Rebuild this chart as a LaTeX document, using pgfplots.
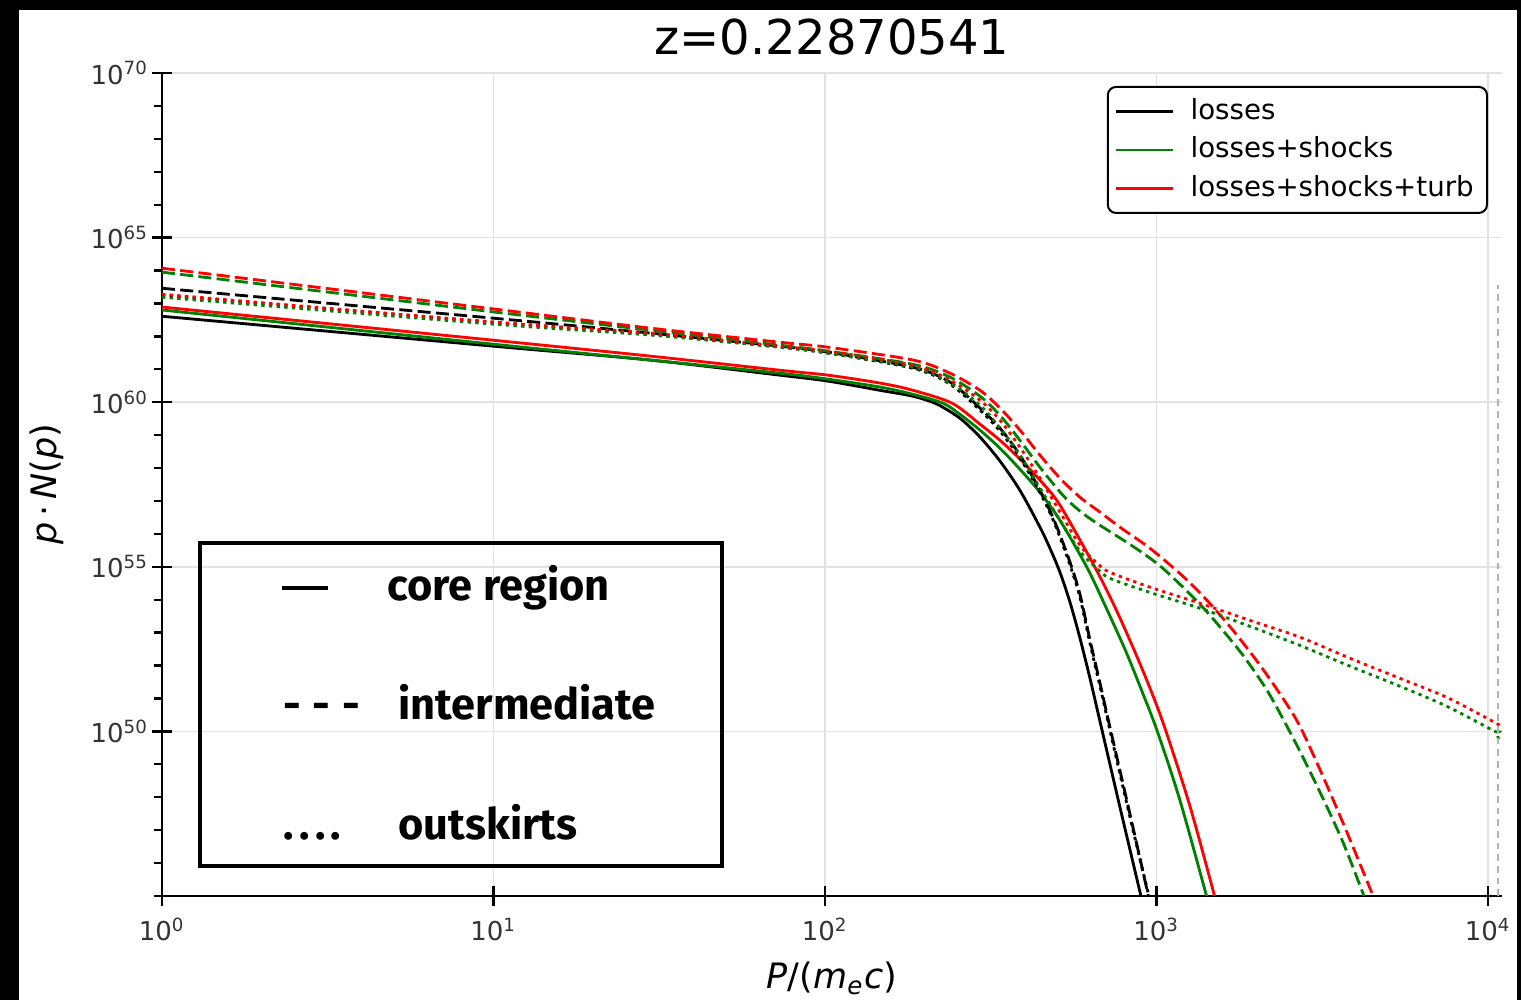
\documentclass[border=0pt]{standalone}
\usepackage{pgfplots}
\usepackage{pgfplotstable}
\pgfplotsset{compat=1.18}
\usepackage{fontspec}
\setmainfont{DejaVu Sans}
\newfontfamily\boxfont{Fira Sans}
\definecolor{mplgreen}{RGB}{0,128,0}
\definecolor{mplred}{RGB}{255,0,0}
\definecolor{gridgray}{RGB}{226,226,226}
\newcommand{\tl}[1]{10\textsuperscript{#1}}

% columns: log10(P/(m_e c))  log10(p N(p))
\pgfplotstableread{
lx ly
0 62.61
1.0015 61.70
1.4721 61.28
1.8643 60.82
2.0090 60.64
2.1659 60.36
2.2655 60.18
2.3379 59.94
2.4072 59.51
2.4676 58.94
2.5279 58.21
2.5882 57.32
2.6486 56.20
2.6787 55.56
2.7089 54.83
2.7391 53.92
2.7692 52.83
2.7994 51.61
2.8296 50.30
2.8899 47.69
2.9563 44.86
}\coreL
\pgfplotstableread{
lx ly
0 62.80
1.0015 61.76
1.4721 61.28
1.8643 60.88
2.0090 60.70
2.1659 60.46
2.2655 60.24
2.3560 59.97
2.4072 59.63
2.4676 59.15
2.5279 58.60
2.5882 57.96
2.6486 57.26
2.7089 56.41
2.7903 54.98
2.8446 53.83
2.9050 52.49
2.9502 51.37
3.0015 50.03
3.0709 47.90
3.1523 44.95
3.1584 44.71
}\coreLS
\pgfplotstableread{
lx ly
0 62.89
1.0015 61.88
1.4721 61.40
1.8643 60.97
2.0090 60.82
2.1659 60.58
2.2655 60.36
2.3831 59.97
2.4676 59.33
2.5279 58.84
2.5882 58.27
2.6486 57.63
2.7089 56.87
2.8145 54.98
2.8748 53.77
2.9291 52.55
2.9804 51.31
3.0256 50.09
3.1011 47.72
3.1765 44.95
3.1825 44.71
}\coreLST
\pgfplotstableread{
lx ly
0 63.46
1.0015 62.55
1.4721 62.10
1.8643 61.70
2.0090 61.52
2.2655 61.06
2.3771 60.61
2.4676 59.82
2.5279 59.21
2.5882 58.39
2.6486 57.32
2.6938 56.35
2.7391 55.14
2.7692 54.16
2.7994 52.77
2.8296 51.46
2.8597 50.12
2.9201 47.48
2.9744 45.05
2.9804 44.77
}\intL
\pgfplotstableread{
lx ly
0 63.95
1.0015 62.74
1.4721 62.19
1.8643 61.73
2.0090 61.55
2.2655 61.15
2.3771 60.76
2.4676 60.18
2.5279 59.60
2.5882 58.84
2.6486 58.02
2.7179 57.17
2.7692 56.69
2.8205 56.32
2.9201 55.68
2.9804 55.26
3.0196 54.95
3.0799 54.38
3.1312 53.86
3.1825 53.28
3.2609 52.31
3.3333 51.25
3.3937 50.15
3.4419 49.21
3.5023 47.96
3.5626 46.63
3.6229 45.08
3.6290 44.86
}\intLS
\pgfplotstableread{
lx ly
0 64.07
1.0015 62.83
1.4721 62.25
1.8643 61.82
2.0090 61.67
2.2655 61.28
2.3771 60.88
2.4676 60.36
2.5279 59.82
2.5882 59.15
2.6486 58.39
2.7089 57.69
2.7692 57.11
2.8296 56.66
2.8899 56.20
2.9804 55.56
3.0799 54.71
3.1523 53.98
3.2308 53.07
3.3122 52.01
3.3816 51.00
3.4329 50.15
3.5023 48.63
3.5747 46.93
3.6531 45.01
3.6621 44.80
}\intLST
\pgfplotstableread{
lx ly
0 63.25
1.0015 62.43
1.4721 62.07
1.8643 61.67
2.0090 61.49
2.2655 61.03
2.3771 60.55
2.4676 59.76
2.5279 59.12
2.5882 58.30
2.6486 57.26
2.6938 56.29
2.7391 55.05
2.7692 54.07
2.7994 52.67
2.8296 51.37
2.8597 50.03
2.9201 47.39
2.9804 44.86
2.9864 44.62
}\outL
\pgfplotstableread{
lx ly
0 63.19
1.0015 62.37
1.4721 62.04
1.8643 61.67
2.0090 61.49
2.2655 61.06
2.3771 60.58
2.4676 59.91
2.5279 59.21
2.5882 58.39
2.6486 57.39
2.7089 56.41
2.7692 55.47
2.8205 54.95
2.8597 54.65
2.9804 54.22
3.1312 53.74
3.2821 53.19
3.4329 52.61
3.5837 51.98
3.7345 51.37
3.8763 50.76
4.0151 50.03
4.0262 49.98
4.0332 49.67
}\outLS
\pgfplotstableread{
lx ly
0 63.28
1.0015 62.43
1.4721 62.10
1.8643 61.70
2.0090 61.55
2.2655 61.12
2.3771 60.67
2.4676 60.06
2.5279 59.45
2.5882 58.63
2.6486 57.69
2.7089 56.66
2.7692 55.65
2.8205 55.11
2.8597 54.83
2.9804 54.38
3.1312 53.89
3.2821 53.37
3.4329 52.86
3.5837 52.22
3.7345 51.61
3.8763 51.03
4.0151 50.30
4.0362 50.18
}\outLST

\begin{document}
\begin{tikzpicture}
% background (pixel frame: 1px = 0.3pt)
\begin{scope}[x=0.3pt,y=-0.3pt,xshift=-48.6pt,yshift=268.8pt]
\fill[black] (0,0) rectangle (1521,1000);
\fill[white] (19.5,10) rectangle (1516.5,1000);
\end{scope}

\begin{axis}[
  at={(0pt,0pt)}, anchor=south west,
  scale only axis, width=401.91pt, height=246.9pt,
  xmin=0, xmax=4.0413, ymin=45, ymax=70,
  axis lines*=left,
  axis line style={line width=0.8pt},
  xtick={0,1,2,3,4},
  xticklabels={\tl{0},\tl{1},\tl{2},\tl{3},\tl{4}},
  ytick={50,55,60,65,70},
  yticklabels={\tl{50},\tl{55},\tl{60},\tl{65},\tl{70}},
  minor ytick={45,46,...,69},
  tick align=center,
  major tick length=6pt,
  minor tick length=2.4pt,
  tick style={black, line width=0.7pt},
  minor tick style={xshift=-1.2pt},
  grid=major,
  major grid style={gridgray, line width=0.45pt},
  ticklabel style={font=\fontsize{7.8}{9}\selectfont, text=black!80},
  yticklabel style={xshift=2.5pt},
  title={z=0.22870541},
  title style={at={(axis description cs:0.5,0.9976)}, anchor=base, font=\fontsize{14.4}{17}\selectfont, inner sep=0pt},
  xlabel={\textit{P}/(\textit{m}\textsubscript{\textit{e}}\textit{c})},
  xlabel style={at={(axis description cs:0.5,-0.113)}, anchor=base, font=\fontsize{10.5}{12}\selectfont, inner sep=0pt},
  ylabel={\textit{p}\,·\,\textit{N}(\textit{p})},
  ylabel style={at={(axis description cs:-0.0858,0.5)}, anchor=center, font=\fontsize{10.5}{12}\selectfont, inner sep=0pt},
  legend style={at={(0.9898,0.9843)}, anchor=north east, draw=black, line width=0.6pt,
    rounded corners=2.5pt, font=\fontsize{8.3}{10}\selectfont, inner xsep=2pt, inner ysep=1.5pt, row sep=-0.3pt},
  legend cell align=left,
  legend image code/.code={\draw[#1] (0pt,0pt) -- (17pt,0pt); \path (20pt,0pt);},
  every axis plot/.append style={line width=0.85pt, smooth, tension=0.5},
]
\addplot[black] table[x=lx,y=ly] {\coreL};
\addlegendentry{losses}
\addplot[mplgreen] table[x=lx,y=ly] {\coreLS};
\addlegendentry{losses+shocks}
\addplot[mplred] table[x=lx,y=ly] {\coreLST};
\addlegendentry{losses+shocks+turb}

\addplot[black, dash pattern=on 3.9pt off 1.6pt, forget plot] table[x=lx,y=ly] {\intL};
\addplot[mplgreen, dash pattern=on 3.9pt off 1.6pt, forget plot] table[x=lx,y=ly] {\intLS};
\addplot[mplred, dash pattern=on 3.9pt off 1.6pt, forget plot] table[x=lx,y=ly] {\intLST};

\addplot[black, dash pattern=on 1pt off 1.3pt, forget plot] table[x=lx,y=ly] {\outL};
\addplot[mplgreen, dash pattern=on 1pt off 1.3pt, forget plot] table[x=lx,y=ly] {\outLS};
\addplot[mplred, dash pattern=on 1pt off 1.3pt, forget plot] table[x=lx,y=ly] {\outLST};

\addplot[black!30, line width=0.4pt, sharp plot, dash pattern=on 2pt off 1.5pt, forget plot] coordinates {(4.0302,45) (4.0302,63.56)};
\end{axis}

% region annotation box (pixel frame)
\begin{scope}[x=0.3pt,y=-0.3pt,xshift=-48.6pt,yshift=268.8pt]
\draw[line width=1.35pt] (200,543) rectangle (722,866);
\begin{scope}[every node/.style={anchor=base west, inner sep=0pt, font=\boxfont\bfseries\fontsize{13}{15}\selectfont}]
\node at (281,601) {\rule[3.3pt]{13.8pt}{1.2pt}};
\node at (387,601) {core region};
\node at (283,720) {-\hspace{3.5pt}-\hspace{3.5pt}-};
\node at (398,720) {intermediate};
\node at (283,840) {.\hspace{1.6pt}.\hspace{1.6pt}.\hspace{1.6pt}.};
\node at (398,840) {outskirts};
\end{scope}
\pgfresetboundingbox
\path[use as bounding box] (0,0) rectangle (1521,1000);
\end{scope}
\end{tikzpicture}
\end{document}
